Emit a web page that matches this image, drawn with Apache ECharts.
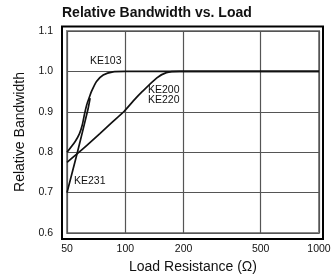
<!DOCTYPE html>
<html>
<head>
<meta charset="utf-8">
<script src="https://cdn.jsdelivr.net/npm/echarts@6/dist/echarts.min.js"></script>
<style>
  html, body { margin: 0; padding: 0; background: #fff; }
  #chart { width: 336px; height: 279px; }
</style>
</head>
<body>
<div id="chart"></div>
<script>
// load resistance (ohm) vs relative bandwidth
const ke103 = [[50, 0.80], [55, 0.826], [58, 0.846], [60, 0.868], [61.6, 0.895], [63.3, 0.918], [65, 0.934], [67, 0.951], [71, 0.975], [76.9, 0.991], [86.4, 0.999], [100, 1.0], [1000, 1.0]];
const ke200 = [[50, 0.775], [61, 0.81], [73.9, 0.846], [85.1, 0.873], [99, 0.902], [110, 0.927], [122.9, 0.951], [145.5, 0.984], [163, 0.997], [190, 1.0], [1000, 1.0]];
const ke231 = [[50, 0.70], [56.6, 0.80], [64.2, 0.907], [65.8, 0.934]];
const xTicks = [50, 100, 200, 500, 1000];

const font = '"Liberation Sans", Arial, sans-serif';
const chart = echarts.init(document.getElementById('chart'));

function line(name, data) {
  return {
    name: name,
    type: 'line',
    data: data,
    smooth: 0.2,
    showSymbol: false,
    lineStyle: { color: '#111', width: 1.7 },
    silent: true
  };
}

chart.setOption({
  animation: false,
  title: {
    text: 'Relative Bandwidth vs. Load',
    left: 62,
    top: 6,
    padding: 0,
    textStyle: { fontFamily: font, fontSize: 14, fontWeight: 'bold', color: '#111' }
  },
  grid: {
    left: 67, right: 17, top: 31, bottom: 43,
    show: true,
    borderColor: '#888',
    borderWidth: 2
  },
  xAxis: {
    type: 'log',
    logBase: 10,
    min: 50,
    max: 1000,
    name: 'Load Resistance (Ω)',
    nameLocation: 'middle',
    nameGap: 27,
    nameTextStyle: { fontFamily: font, fontSize: 14, color: '#111' },
    axisLine: { show: false },
    axisTick: { show: false, customValues: xTicks },
    axisLabel: {
      customValues: xTicks,
      margin: 11,
      fontFamily: font,
      fontSize: 10.5,
      color: '#111',
      formatter: v => String(v)
    },
    splitLine: { show: true, lineStyle: { color: '#555', width: 1.2 } }
  },
  yAxis: {
    type: 'value',
    min: 0.6,
    max: 1.1,
    interval: 0.1,
    name: 'Relative Bandwidth',
    nameLocation: 'middle',
    nameGap: 32,
    nameTextStyle: { fontFamily: font, fontSize: 14, color: '#111' },
    axisLine: { show: false },
    axisTick: { show: false },
    axisLabel: {
      margin: 14,
      fontFamily: font,
      fontSize: 10.5,
      color: '#111',
      formatter: v => v.toFixed(1)
    },
    splitLine: { show: true, lineStyle: { color: '#555', width: 1.2 } }
  },
  graphic: [
    {
      type: 'rect',
      shape: { x: 62, y: 26.5, width: 261, height: 212.5 },
      style: { fill: 'none', stroke: '#000', lineWidth: 2 },
      silent: true,
      z: 10
    },
    { type: 'text', left: 90, top: 56, style: { text: 'KE103', font: '10.5px ' + font, fill: '#111' }, z: 10 },
    { type: 'text', left: 148, top: 85, style: { text: 'KE200', font: '10.5px ' + font, fill: '#111' }, z: 10 },
    { type: 'text', left: 148, top: 95, style: { text: 'KE220', font: '10.5px ' + font, fill: '#111' }, z: 10 },
    { type: 'text', left: 74, top: 176, style: { text: 'KE231', font: '10.5px ' + font, fill: '#111' }, z: 10 }
  ],
  series: [
    line('KE103', ke103),
    line('KE200/KE220', ke200),
    line('KE231', ke231)
  ]
});
</script>
</body>
</html>
